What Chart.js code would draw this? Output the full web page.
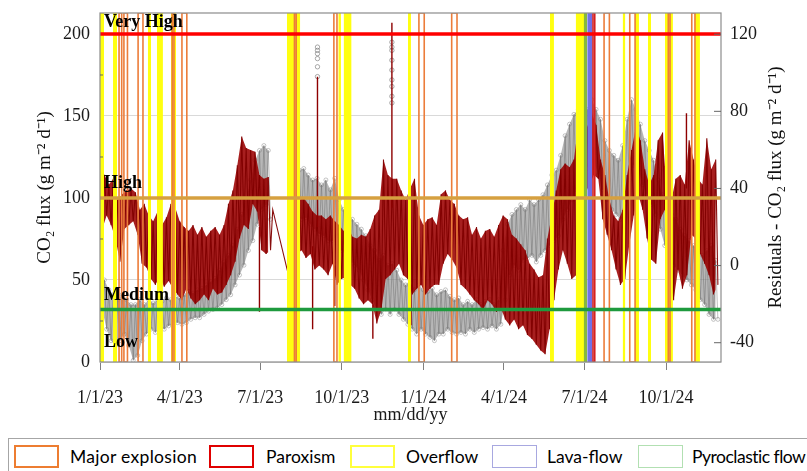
<!DOCTYPE html>
<html><head><meta charset="utf-8">
<script src="https://cdn.jsdelivr.net/npm/chart.js@4.4.1/dist/chart.umd.min.js"></script>
<style>
html,body{margin:0;padding:0;background:#fff;width:807px;height:471px;overflow:hidden;position:relative}
#wrap{position:absolute;left:0;top:0;width:807px;height:435px}
#legendFrame{position:absolute;left:8px;top:438px;width:830px;height:60px;border:1px solid #A6A6A6;box-sizing:border-box}
.lb{position:absolute;top:445px;width:45px;height:23px;box-sizing:border-box;background:#fff}
.lt{position:absolute;top:445px;height:23px;line-height:23px;font-family:Lato,"Open Sans",sans-serif;font-size:17.5px;color:#000;white-space:nowrap}
</style></head>
<body>
<div id="wrap"><canvas id="c" width="807" height="435"></canvas></div>
<div id="legendFrame"></div>
<div id="legend"></div>
<script>
// ---------- DATA ----------
const STEP = 5;                 // days between samples (day 0 = 1/1/23)
const X_MAX = 701;
const xTickDays   = [0, 90, 181, 273, 365, 456, 547, 639];
const xTickLabels = ['1/1/23','4/1/23','7/1/23','10/1/23','1/1/24','4/1/24','7/1/24','10/1/24'];
const leftTicks  = [0, 50, 100, 150, 200];
const rightTicks = [-40, 0, 40, 80, 120];
const LEFT_MAX = 212.8, RIGHT_MIN = -50, RIGHT_MAX = 131;

// Residuals (dark red, right axis): upper / lower envelope per sample
const redHigh = [54,47,42,45,34,37,39,40,38,29,32,26,23,28,21,25,32,30,23,20,
  18,21,16,20,15,18,20,16,21,32,39,52,67,61,60,59,47,45,46,29,
  null,null,null,null,32,34,35,32,28,26,26,24,26,23,21,18,20,15,14,16,
  15,19,26,29,55,47,45,45,39,34,40,45,26,21,24,25,21,37,39,34,
  32,26,24,25,16,20,14,18,19,15,21,26,24,16,14,11,8,1,-2,-6,
  -5,14,26,39,50,53,51,55,73,77,72,79,73,55,47,34,26,23,29,47,
  60,72,65,50,42,47,65,69,37,34,45,47,42,65,55,45,42,66,50,55];
const redLow = [19,26,21,14,2,19,21,23,16,1,-1,-7,-10,-6,-11,-8,-12,-15,-18,-12,
  -17,-20,-18,-15,-18,-12,-15,-14,-10,-5,2,14,21,19,32,28,8,6,8,null,
  null,null,null,-14,6,8,4,6,-2,0,-2,-5,1,-10,-7,-6,-10,-12,-17,-20,
  -18,-20,-30,-23,-7,-5,-2,1,-5,-7,-15,-12,-10,-15,-12,-10,-10,1,6,3,
  -1,-10,-12,-15,-18,-20,-23,-18,-20,-24,-22,-28,-31,-28,-33,-31,-36,-38,-41,-44,
  -46,-33,-18,-2,8,1,-7,-5,29,37,42,47,45,24,16,8,-2,-10,-7,11,
  26,37,29,14,3,1,24,29,-7,-18,-2,-12,-5,16,14,6,1,-5,-15,-10];
// isolated residual spikes: [day, from, to]
const redSpikes = [[180,20,-24],[240,10,-33],[245.5,20,98],[265,0,-21],[308,-20,-38],[329.5,30,126],
  [349,30,67],[351,-10,-31],[620,0,-40],[645,-10,-32],[662,40,79]];

// CO2 flux (grey circles, left axis): upper / lower envelope per sample
const grayHigh = [55,50,44,41,38,41,38,35,35,38,35,38,36,38,37,39,38,40,39,41,
  43,42,44,45,47,49,51,56,61,65,71,81,90,99,111,123,129,132,129,null,
  null,null,null,117,123,117,118,114,111,112,108,111,105,112,99,93,90,87,84,81,
  77,71,68,62,65,59,60,56,50,47,50,44,47,44,43,45,41,43,44,40,
  38,39,35,37,35,38,35,37,38,35,38,68,84,90,93,96,93,99,96,99,
  102,108,114,117,126,138,145,151,154,157,154,160,154,148,135,129,126,123,132,148,
  160,154,145,135,129,123,111,102,93,90,87,81,77,74,71,68,65,68,71,62];
const grayLow = [32,20,13,10,13,17,10,1,4,13,17,20,18,21,20,22,23,24,23,24,
  26,27,27,29,31,32,33,35,38,41,47,53,59,68,74,84,93,96,87,null,
  null,null,null,93,90,87,88,84,81,78,77,74,74,77,68,65,62,59,56,50,
  44,38,32,29,32,29,32,29,26,23,20,17,20,17,15,13,17,17,20,18,
  17,18,17,20,18,20,21,20,22,20,23,38,53,59,56,62,63,65,61,65,
  68,71,74,77,87,93,99,105,111,117,120,123,114,105,99,93,90,87,99,111,
  120,117,108,102,96,90,81,71,65,59,56,53,50,47,44,38,35,29,26,26];
// isolated high CO2 circles
const grayOutDays = [245.5,245.5,245.5,245.5,245.5,245.5,329.5,329.5,329.5,329.5,329.5,329.5,329.5,329.5,329.5];
const grayOutVals = [192,190,188,185,180,174,195,192,190,184,178,172,168,162,158];

// Activity thresholds (left axis)
const VERY_HIGH = 200, HIGH = 100, MEDIUM = 32;

// Volcanic events: [start day, end day]
const overflowBands   = [[0,4.5],[14.7,19.2],[54,57.6],[64.3,71],[80,85.8],[211,226],[269,272],[275,284],
  [347.6,351],[507.9,512.4],[537,547],[590,593],[604,608.4],[618.5,622],[637.7,646.7],[671.6,677.2]];
const explosionBands  = [[21.5,24.5],[27,31],[43,48.5],[81.5,83.5],[92.5,98],[219.5,221.5],[264,267.5],
  [360,366],[397,403],[569,575],[598,604],[641.5,643.5],[668,671.6]];
const paroxismBands   = [[556.5,558.5]];
const lavaFlowBands   = [[550,556]];
const pyroclasticBands= [[546,550]];

const legendLabels = ['Major explosion','Paroxism','Overflow','Lava-flow','Pyroclastic flow'];

// ---------- BUILD ----------
function zigzag(hi, lo) {
  const out = [];
  hi.forEach((h, i) => { const d = i * STEP; out.push({x: d, y: h}); out.push({x: d + STEP / 2, y: lo[i]}); });
  return out;
}
// filled envelope between hi and lo, one pair of datasets per continuous run
function envelope(hi, lo, yAxisID, color) {
  const runs = []; let cur = null;
  hi.forEach((h, i) => {
    if (h !== null && lo[i] !== null) { if (!cur) { cur = []; runs.push(cur); } cur.push(i); }
    else cur = null;
  });
  const sets = [];
  runs.forEach(r => {
    sets.push({ data: r.map(i => ({x: i * STEP, y: hi[i]})), yAxisID, borderWidth: 0, borderColor: 'rgba(0,0,0,0)', backgroundColor: color, fill: '+1', pointRadius: 0, tension: 0 });
    sets.push({ data: r.map(i => ({x: i * STEP + STEP / 2, y: lo[i]})), yAxisID, borderWidth: 0, borderColor: 'rgba(0,0,0,0)', fill: false, pointRadius: 0, tension: 0 });
  });
  return sets;
}
function spikes(list) {
  const out = [];
  list.forEach(([d, a, b]) => { out.push({x: d, y: a}); out.push({x: d, y: b}); out.push({x: d, y: null}); });
  return out;
}
function outline(bands, color, w) {
  return bands.map(([s, e]) => ({
    data: [{x:s,y:0},{x:s,y:LEFT_MAX},{x:e,y:LEFT_MAX},{x:e,y:0},{x:s,y:0}],
    borderColor: color, borderWidth: w, pointRadius: 0, fill: false, yAxisID: 'y', tension: 0
  }));
}
function filled(bands, color) {
  return bands.map(([s, e]) => ({
    data: [{x:s,y:LEFT_MAX},{x:e,y:LEFT_MAX}],
    borderColor: 'rgba(0,0,0,0)', borderWidth: 0, backgroundColor: color, fill: 'start', pointRadius: 0, yAxisID: 'y'
  }));
}
function hline(v, color) {
  return { data: [{x:0,y:v},{x:X_MAX,y:v}], borderColor: color, borderWidth: 3.5, pointRadius: 0, fill: false, yAxisID: 'y' };
}

const datasets = [
  hline(VERY_HIGH, '#FF0000'),
  hline(HIGH, '#D6A040'),
  hline(MEDIUM, '#1E9A3E'),
  ...outline(paroxismBands, '#D42020', 1.6),
  ...outline(explosionBands, '#EC7D3A', 1.6),
  ...filled(lavaFlowBands, '#7070E6'),
  ...filled(pyroclasticBands, '#86B83C'),
  ...filled(overflowBands, '#FFFF10'),
  { data: spikes(redSpikes), yAxisID: 'y2', borderColor: '#8E0000', borderWidth: 1.4, pointRadius: 0, fill: false, spanGaps: false },
  { data: zigzag(redHigh, redLow), yAxisID: 'y2', borderColor: 'rgba(130,0,0,0.95)', borderWidth: 1.1, pointRadius: 0, fill: false, spanGaps: true, tension: 0 },
  ...envelope(redHigh, redLow, 'y2', 'rgba(155,0,0,0.88)'),
  { data: grayOutDays.map((d, i) => ({x: d, y: grayOutVals[i]})), yAxisID: 'y', showLine: false, pointRadius: 2.2, pointBorderWidth: 0.8,
    pointBorderColor: 'rgba(120,120,120,0.8)', pointBackgroundColor: 'rgba(255,255,255,0)' },
  { data: zigzag(grayHigh, grayLow), yAxisID: 'y', borderColor: 'rgba(95,95,95,0.4)', borderWidth: 1, pointRadius: 2, pointBorderWidth: 0.8,
    pointBorderColor: 'rgba(125,125,125,0.55)', pointBackgroundColor: 'rgba(255,255,255,0)', fill: false, spanGaps: false, tension: 0 },
  ...envelope(grayHigh, grayLow, 'y', 'rgba(135,135,135,0.6)')
];

const SERIF = 'Liberation Serif';
const decor = {
  id: 'decor',
  afterDatasetsDraw(chart) {
    const {ctx, chartArea: a, scales} = chart;
    const yL = scales.y, yR = scales.y2;
    ctx.save();
    ctx.strokeStyle = '#8C8C8C'; ctx.lineWidth = 1.2;
    ctx.strokeRect(a.left, a.top, a.right - a.left, a.bottom - a.top);
    ctx.strokeStyle = '#666'; ctx.lineWidth = 1;
    rightTicks.forEach(v => { const y = yR.getPixelForValue(v); ctx.beginPath(); ctx.moveTo(a.right - 7, y); ctx.lineTo(a.right, y); ctx.stroke(); });
    [25, 75, 125, 175].forEach(v => { const y = yL.getPixelForValue(v); ctx.beginPath(); ctx.moveTo(a.left, y); ctx.lineTo(a.left + 3, y); ctx.stroke(); });
    ctx.fillStyle = '#000'; ctx.textAlign = 'left'; ctx.textBaseline = 'alphabetic';
    ctx.font = 'bold 18px "' + SERIF + '"';
    ctx.fillText('Very High', a.left + 4, yL.getPixelForValue(VERY_HIGH) - 7);
    ctx.fillText('High', a.left + 4, yL.getPixelForValue(HIGH) - 10);
    ctx.fillText('Medium', a.left + 4, yL.getPixelForValue(MEDIUM) - 10);
    ctx.fillText('Low', a.left + 4, yL.getPixelForValue(MEDIUM) + 37);
    ctx.translate(776, (a.top + a.bottom) / 2);
    ctx.rotate(-Math.PI / 2);
    ctx.textAlign = 'center'; ctx.textBaseline = 'middle';
    ctx.font = '19px "' + SERIF + '"'; ctx.fillStyle = '#111';
    ctx.fillText('Residuals - CO₂ flux (g m⁻² d⁻¹)', 0, 0);
    ctx.restore();
  }
};

const tickFont = { family: SERIF, size: 18 };
new Chart(document.getElementById('c'), {
  type: 'line',
  data: { datasets },
  options: {
    responsive: false, animation: false, events: [],
    layout: { padding: { top: 13, left: 0, right: 0, bottom: 0 } },
    plugins: { legend: { display: false }, tooltip: { enabled: false } },
    scales: {
      x: {
        type: 'linear', min: 0, max: X_MAX,
        afterBuildTicks: s => { s.ticks = xTickDays.map(v => ({ value: v })); },
        afterFit: s => { s.height = 73; s.paddingLeft = 0; s.paddingRight = 0; },
        ticks: { callback: (v, i) => xTickLabels[i], font: tickFont, color: '#1a1a1a', padding: 17, maxRotation: 0, autoSkip: false },
        grid: { drawOnChartArea: false, drawTicks: true, tickLength: 8, color: '#808080' },
        border: { display: false },
        title: { display: true, text: 'mm/dd/yy', font: tickFont, color: '#1a1a1a', padding: { top: 0, bottom: 9 } }
      },
      y: {
        type: 'linear', position: 'left', min: 0, max: LEFT_MAX,
        afterBuildTicks: s => { s.ticks = leftTicks.map(v => ({ value: v })); },
        afterFit: s => { s.width = 100; s.paddingTop = 0; s.paddingBottom = 0; },
        ticks: { font: tickFont, color: '#1a1a1a', padding: 10 },
        grid: { color: '#D9D9D9', drawTicks: false },
        border: { display: false },
        title: { display: true, text: 'CO₂ flux (g m⁻² d⁻¹)', font: { family: SERIF, size: 19 }, color: '#111', padding: { top: 34, bottom: 0 } }
      },
      y2: {
        type: 'linear', position: 'right', min: RIGHT_MIN, max: RIGHT_MAX,
        afterBuildTicks: s => { s.ticks = rightTicks.map(v => ({ value: v })); },
        afterFit: s => { s.width = 86; s.paddingTop = 0; s.paddingBottom = 0; },
        ticks: { font: tickFont, color: '#1a1a1a', padding: 9 },
        grid: { drawOnChartArea: false, drawTicks: false },
        border: { display: false }
      }
    }
  },
  plugins: [decor]
});

// ---------- LEGEND ----------
const legendBoxes = [
  { left: 14,  border: '2px solid #ED7D31', textLeft: 70, ls: 0.3 },
  { left: 209, border: '2.5px solid #E00000', textLeft: 266, ls: 0 },
  { left: 350, border: '2px solid #FFFF3C', textLeft: 406, ls: 0 },
  { left: 492, border: '1.5px solid #A8A8E0', textLeft: 547, ls: 0 },
  { left: 638, border: '1.5px solid #B2E0B2', textLeft: 692, ls: -0.5 }
];
const lg = document.getElementById('legend');
legendBoxes.forEach((b, i) => {
  const box = document.createElement('div'); box.className = 'lb'; box.style.left = b.left + 'px'; box.style.border = b.border; lg.appendChild(box);
  const t = document.createElement('div'); t.className = 'lt'; t.style.left = b.textLeft + 'px'; t.style.letterSpacing = b.ls + 'px'; t.textContent = legendLabels[i]; lg.appendChild(t);
});
</script>
</body></html>
